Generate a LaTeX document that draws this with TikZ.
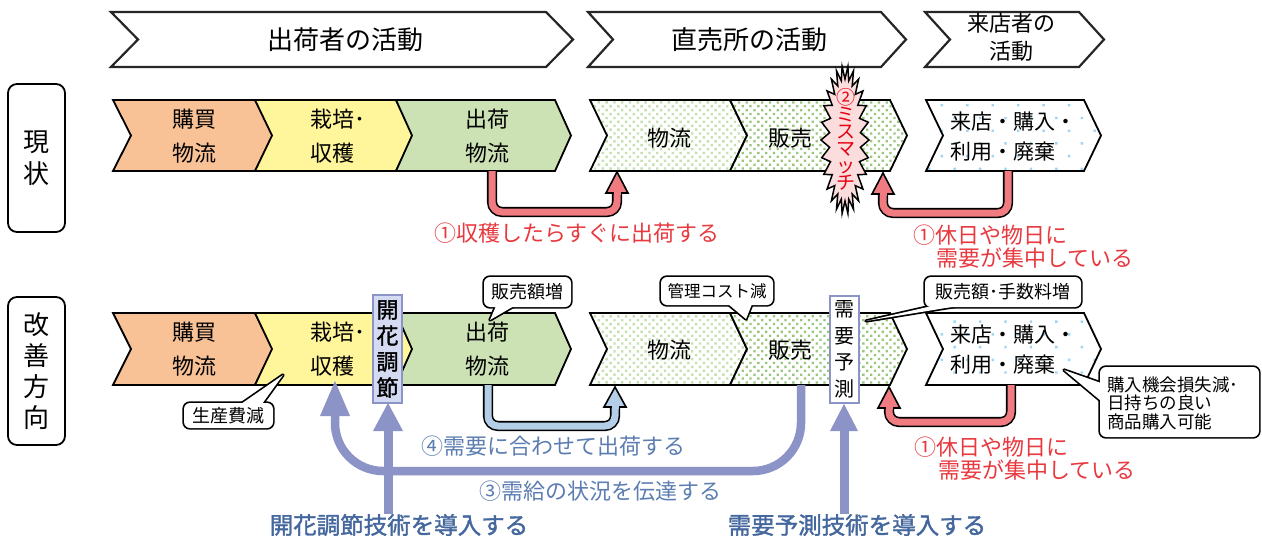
\documentclass[tikz,border=0pt]{standalone}
\usepackage{fontspec}
\newfontfamily\jp{Noto Sans CJK JP}
\newfontfamily\jpb[FakeBold=1.5]{Noto Sans CJK JP}
\usetikzlibrary{patterns.meta}
\definecolor{corange}{HTML}{F9C296}
\definecolor{cyellow}{HTML}{FFF59B}
\definecolor{cgreen}{HTML}{CDE2B4}
\definecolor{dotlight}{HTML}{C6E0AF}
\definecolor{dotdark}{HTML}{98C77B}
\definecolor{dotblue}{HTML}{9ED4F4}
\definecolor{redarrow}{HTML}{F07C82}
\definecolor{bluearrow}{HTML}{B5CEE7}
\definecolor{lav}{HTML}{8C93C6}
\definecolor{lavfill}{HTML}{D3DAF1}
\definecolor{redtext}{HTML}{E8393F}
\definecolor{bluetext}{HTML}{5B7DB1}
\definecolor{bluelabel}{HTML}{44679E}
\definecolor{burstfill}{HTML}{FCDDDD}
\definecolor{burstred}{HTML}{E60012}
\newcommand{\fsz}[2]{\fontsize{#1}{#2}\selectfont}
\newcommand{\chevpath}[6]{\path[#1] (#2,#4) -- (#3,#4) -- ({#3+#6},{(#4+#5)/2}) -- (#3,#5) -- (#2,#5) -- ({#2+#6},{(#4+#5)/2}) -- cycle;}
\newcommand{\mycallout}[7]{%
  \draw[line width=3.4pt, rounded corners=6pt] (#1,#2) rectangle (#3,#4);
  \draw[line width=3.4pt, line join=round] #5 -- #6 -- #7;
  \fill[white, rounded corners=6pt] (#1,#2) rectangle (#3,#4);
  \fill[white] #5 -- #6 -- #7 -- cycle;}
\begin{document}
\begin{tikzpicture}[x=1pt,y=-1pt,font=\jp,
  rowchev/.style={draw=black,line width=1.8pt,line join=miter},
  hdrchev/.style={draw=black!85,line width=2.2pt,line join=miter,fill=white},
  dotsL/.style={preaction={fill=white},pattern={Dots[distance=5.5pt,radius=1.7pt,angle=45]},pattern color=dotlight},
  dotsD/.style={preaction={fill=white},pattern={Dots[distance=5.5pt,radius=1.6pt,angle=45]},pattern color=dotdark},
  dotsB/.style={preaction={fill=white},pattern={Dots[distance=18pt,radius=1.7pt,angle=45]},pattern color=dotblue},
  ctext/.style={font=\jp\fsz{22}{34},align=center,inner sep=0pt},
  ltext/.style={font=\jp\fsz{21}{30},align=left,inner sep=0pt,anchor=west},
  htext/.style={font=\jp\fsz{26}{30},align=center,inner sep=0pt},
  fatred/.style={draw=black,line width=1.6pt,double=redarrow,double distance=7pt,rounded corners=10pt},
  fatblue/.style={draw=black,line width=1.6pt,double=bluearrow,double distance=7pt,rounded corners=10pt},
  headred/.style={fill=redarrow,draw=black,line width=1.6pt,line join=miter},
  headblue/.style={fill=bluearrow,draw=black,line width=1.6pt,line join=miter},
  lavline/.style={draw=lav,line width=9pt},
  redlbl/.style={font=\jp\fsz{22}{26},text=redtext,inner sep=0pt},
  bluelbl/.style={font=\jp\fsz{22}{26},text=bluetext,inner sep=0pt},
  techlbl/.style={font=\jpb\fsz{23.5}{26},text=bluelabel,inner sep=0pt},
  cotext/.style={font=\jp\fsz{18}{20},inner sep=0pt},
  rowlbl/.style={draw,line width=1.8pt,rounded corners=9pt,minimum width=57pt,inner sep=0pt,align=center}
]
\useasboundingbox (0,0) rectangle (1262,538);
\fill[white] (0,0) rectangle (1262,538);

% ---------- header ----------
\chevpath{hdrchev}{111}{546}{12}{67}{27}
\chevpath{hdrchev}{588}{881}{12}{67}{25}
\chevpath{hdrchev}{925}{1079}{12}{67}{25}
\node[htext] (h1) at (345,39.5) {出荷者の活動};
\node[htext] (h2) at (749,39.5) {直売所の活動};
\node[font=\jp\fsz{22}{28},align=center,inner sep=0pt] (h3) at (1011,37) {来店者の\\活動};

% ---------- row labels ----------
\node[rowlbl,minimum height=148pt,font=\jp\fsz{26}{32}] (genjo) at (36.5,158) {現\\状};
\node[rowlbl,minimum height=148pt,font=\jp\fsz{26}{31}] (kaizen) at (36.5,371) {改\\善\\方\\向};

% ---------- row 1 ----------
\chevpath{rowchev,fill=corange}{113}{255}{100}{171}{18}
\chevpath{rowchev,fill=cyellow}{255}{396}{100}{171}{17}
\chevpath{rowchev,fill=cgreen}{396}{555}{100}{171}{16}
\chevpath{rowchev,dotsL}{590}{730}{100}{171}{17}
\chevpath{rowchev,dotsD}{730}{890}{100}{171}{17}
\chevpath{rowchev,dotsB}{926}{1084}{100}{171}{17}
\node[ctext] (a1) at (194,136) {購買\\物流};
\node[ctext,align=left,anchor=west] (a2) at (310,136) {栽培･\\収穫};
\node[ctext] (a3) at (487,136) {出荷\\物流};
\node[ctext] (a4) at (669,138) {物流};
\node[ctext] (a5) at (790,138) {販売};
\node[ltext] (a6) at (950,137) {来店・購入・\\利用・廃棄};

% row 1 arrows
\coordinate (r1s) at (492,171);
\coordinate (r1e) at (617,193);
\draw[fatred] (r1s) -- ++(0,41) -| (r1e);
\path[headred] (606,193) -- (617,172) -- (628,193) -- cycle;
\fill[redarrow] (613.5,191.5) rectangle (620.5,194.8);
\coordinate (r2s) at (1008,171);
\coordinate (r2e) at (883,194);
\draw[fatred] (r2s) -- ++(0,42) -| (r2e);
\path[headred] (872,194) -- (883,173) -- (894,194) -- cycle;
\fill[redarrow] (879.5,192.5) rectangle (886.5,195.8);

% burst
\draw[fill=burstfill,line width=1.5pt,line join=miter] (869,140)
  \foreach \i in {1,...,51}{ -- ({845+(mod(\i,2)==0?24:15.5)*cos(\i*6.923)},{140+(mod(\i,2)==0?74:61)*sin(\i*6.923)}) } -- cycle;
\node[font=\jp\fsz{19}{17},text=burstred,align=center,inner sep=0pt] (mis) at (846,139) {②\\ミ\\ス\\マ\\ッ\\チ};

% row 1 red labels
\node[redlbl] (q1) at (577,233) {①収穫したらすぐに出荷する};
\node[redlbl,anchor=west] (q2) at (913,235) {①休日や物日に};
\node[redlbl,anchor=west] (q3) at (936,258) {需要が集中している};

% ---------- row 2 ----------
\chevpath{rowchev,fill=corange}{113}{255}{313}{385}{18}
\chevpath{rowchev,fill=cyellow}{255}{396}{313}{385}{17}
\chevpath{rowchev,fill=cgreen}{396}{555}{313}{385}{16}
\chevpath{rowchev,dotsL}{590}{730}{313}{385}{17}
\chevpath{rowchev,dotsD}{730}{890}{313}{385}{17}
\chevpath{rowchev,dotsB}{926}{1084}{313}{385}{17}
\node[ctext] (b1) at (194,349) {購買\\物流};
\node[ctext,align=left,anchor=west] (b2) at (310,349) {栽培･\\収穫};
\node[ctext] (b3) at (487,349) {出荷\\物流};
\node[ctext] (b4) at (669,350) {物流};
\node[ctext] (b5) at (790,350) {販売};
\node[ltext] (b6) at (950,350) {来店・購入・\\利用・廃棄};

% lavender big arrow (3)
\coordinate (p3s) at (801,385);
\coordinate (p3e) at (335,414);
\draw[lavline,line width=8.5pt,rounded corners=48pt] (p3s) -- (801,471) -- (335,471) -- (p3e);
\fill[lav] (320,416) -- (335,381) -- (350,416) -- cycle;

% light blue arrow (4)
\coordinate (p4s) at (488,385);
\coordinate (p4e) at (615,407);
\draw[fatblue] (p4s) -- ++(0,41) -| (p4e);
\path[headblue] (604,407) -- (615,387) -- (626,407) -- cycle;
\fill[bluearrow] (611.5,405.5) rectangle (618.5,408.8);

% row 2 red arrow
\coordinate (p5s) at (1011,385);
\coordinate (p5e) at (889,408);
\draw[fatred] (p5s) -- ++(0,37) -| (p5e);
\path[headred] (878,408) -- (889,387) -- (900,408) -- cycle;
\fill[redarrow] (885.5,406.5) rectangle (892.5,409.8);

% technology arrows
\node[techlbl] (tech1) at (399,525) {開花調節技術を導入する};
\node[techlbl] (tech2) at (857,525) {需要予測技術を導入する};
\draw[lavline] (tech1.north -| 388,0) -- (388,428);
\fill[lav] (373,431) -- (388,403) -- (403,431) -- cycle;
\draw[lavline] (tech2.north -| 844,0) -- (844,428);
\fill[lav] (830,431) -- (844,404) -- (858,431) -- cycle;

% boxes
\node[draw=lav,fill=lavfill,line width=1.5pt,minimum width=29pt,minimum height=108pt,inner sep=0pt,align=center,font=\jpb\fsz{22}{26}] (kaika) at (387.5,349) {開\\花\\調\\節};
\node[draw=lav,fill=white,line width=1.5pt,minimum width=29pt,minimum height=107pt,inner sep=0pt,align=center,font=\jp\fsz{20}{26.5}] (yosoku) at (844.5,349.5) {需\\要\\予\\測};

% callouts
\mycallout{484}{277}{571}{307}{(496,306)}{(490,320)}{(514,306)}
\node[cotext] (c1) at (527.5,292) {販売額増};
\mycallout{184}{403}{273}{428}{(241,404)}{(283,375)}{(262,404)}
\node[cotext] (c2) at (228.5,415.5) {生産費減};
\mycallout{661}{277}{773}{305}{(728,304)}{(746,319)}{(752,304)}
\node[cotext,font=\jp\fsz{16.5}{18}] (c3) at (717,291) {管理コスト減};
\mycallout{925}{277}{1081}{307}{(932,306)}{(866,321)}{(958,306)}
\node[cotext,font=\jp\fsz{18}{20}] (c4) at (1003,292) {販売額･手数料増};
\mycallout{1100}{367}{1259}{437}{(1101,383)}{(1064,370)}{(1101,401)}
\node[cotext,font=\jp\fsz{17.5}{18.5},align=left,anchor=west] (c5) at (1107,403) {購入機会損失減･\\日持ちの良い\\商品購入可能};

% row 2 labels
\node[bluelbl] (q4) at (553,446) {④需要に合わせて出荷する};
\node[bluelbl] (q5) at (600,491) {③需給の状況を伝達する};
\node[redlbl,anchor=west] (q6) at (914,447) {①休日や物日に};
\node[redlbl,anchor=west] (q7) at (938,470) {需要が集中している};
\end{tikzpicture}
\end{document}
